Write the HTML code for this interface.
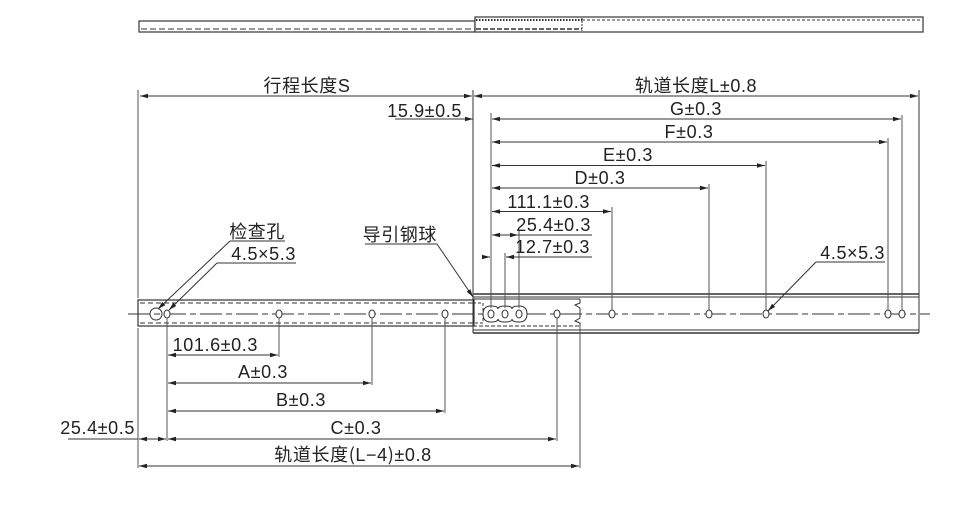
<!DOCTYPE html>
<html><head><meta charset="utf-8"><style>
html,body{margin:0;padding:0;background:#fff}
svg{display:block}
text{font-family:"Liberation Sans","Noto Sans CJK SC",sans-serif;font-size:18px;fill:#222;letter-spacing:0.6px}
.w{font-family:"Noto Sans CJK SC",sans-serif}
</style></head><body>
<svg width="964" height="528" viewBox="0 0 964 528" xmlns="http://www.w3.org/2000/svg">
<defs>
<marker id="ar" viewBox="0 0 8 6" refX="8" refY="3" markerWidth="8" markerHeight="6" orient="auto-start-reverse" markerUnits="userSpaceOnUse">
<path d="M0,0.8 L8,3 L0,5.2z" fill="#222"/></marker>
</defs>
<g stroke="#333" fill="none" stroke-width="1">
<rect x="139" y="21" width="336" height="11" stroke="#444" stroke-width="1.3"/>
<line x1="141" y1="29" x2="475" y2="29" stroke-dasharray="6,3"/>
<rect x="475" y="17" width="448" height="15" stroke="#444" stroke-width="1.3" fill="#fff"/>
<line x1="476" y1="20" x2="582" y2="20" stroke-dasharray="1.5,1.5" stroke-width="2"/>
<line x1="582" y1="20" x2="921" y2="20" stroke-dasharray="3,2"/>
<line x1="476" y1="29" x2="582" y2="29" stroke-dasharray="5,2" stroke-width="1.6"/>
<line x1="582" y1="18" x2="582" y2="31" stroke-dasharray="2,1"/>

<rect x="138" y="300" width="336" height="26" stroke-width="1.2"/>
<line x1="140" y1="303" x2="474" y2="303" stroke-dasharray="5,3"/>
<line x1="140" y1="323" x2="474" y2="323" stroke-dasharray="5,3"/>
<line x1="473" y1="294" x2="919" y2="294" stroke-width="1.6"/>
<line x1="473" y1="297" x2="919" y2="297"/>
<line x1="473" y1="330" x2="919" y2="330"/>
<line x1="473" y1="333" x2="919" y2="333" stroke-width="1.6"/>
<line x1="919" y1="294" x2="919" y2="333"/>
<line x1="473" y1="294" x2="473" y2="333"/>
<line x1="473" y1="299" x2="580" y2="299"/>
<line x1="473" y1="326" x2="580" y2="326" stroke-dasharray="4,2"/>
<path d="M580,299 L580,303 L575,305 L580,308 L580,318 L575,321 L580,323 L580,326"/>
<rect x="473" y="303" width="10" height="20" stroke-dasharray="3,2"/>
<line x1="128" y1="314" x2="930" y2="314" stroke-dasharray="22,4,6,4"/>
<circle cx="156" cy="314" r="6"/>
<g fill="#fff">
<ellipse cx="167" cy="314" rx="3" ry="4"/>
<ellipse cx="279" cy="314" rx="3" ry="4"/>
<ellipse cx="372" cy="314" rx="3" ry="4"/>
<ellipse cx="445" cy="314" rx="3" ry="4"/>
<path d="M491,306 Q498,306 498,309 Q498,306 505,306 Q512,306 512,309 Q512,306 519,306 Q527,306 527,314 Q527,322 519,322 Q512,322 512,319 Q512,322 505,322 Q498,322 498,319 Q498,322 491,322 Q483,322 483,314 Q483,306 491,306z"/>
<ellipse cx="491" cy="314" rx="3" ry="4"/>
<ellipse cx="505" cy="314" rx="3" ry="4"/>
<ellipse cx="519" cy="314" rx="3" ry="4"/>
<ellipse cx="557" cy="314" rx="3" ry="4"/>
<ellipse cx="612" cy="314" rx="3" ry="4"/>
<ellipse cx="709" cy="314" rx="3" ry="4"/>
<ellipse cx="766" cy="314" rx="3" ry="4"/>
<ellipse cx="888" cy="314" rx="3" ry="4"/>
<ellipse cx="902" cy="314" rx="3" ry="4"/>
</g>

<line x1="138" y1="90" x2="138" y2="298" stroke="#555"/>
<line x1="473" y1="90" x2="473" y2="294"/>
<line x1="919" y1="90" x2="919" y2="294"/>
<line x1="140" y1="96" x2="472" y2="96" marker-start="url(#ar)" marker-end="url(#ar)"/>
<line x1="474" y1="96" x2="918" y2="96" marker-start="url(#ar)" marker-end="url(#ar)"/>
<line x1="395" y1="119" x2="473" y2="119" marker-end="url(#ar)"/>
<line x1="491" y1="113" x2="491" y2="308" stroke="#555"/>
<line x1="492" y1="119" x2="901" y2="119" marker-start="url(#ar)" marker-end="url(#ar)"/>
<line x1="902" y1="115" x2="902" y2="310" stroke="#555"/>
<line x1="492" y1="142" x2="887" y2="142" marker-start="url(#ar)" marker-end="url(#ar)"/>
<line x1="888" y1="138" x2="888" y2="310" stroke="#555"/>
<line x1="492" y1="165.5" x2="765" y2="165.5" marker-start="url(#ar)" marker-end="url(#ar)"/>
<line x1="766" y1="161" x2="766" y2="310" stroke="#555"/>
<line x1="492" y1="188" x2="708" y2="188" marker-start="url(#ar)" marker-end="url(#ar)"/>
<line x1="709" y1="184" x2="709" y2="310" stroke="#555"/>
<line x1="492" y1="211.5" x2="611" y2="211.5" marker-start="url(#ar)" marker-end="url(#ar)"/>
<line x1="612" y1="207" x2="612" y2="310" stroke="#555"/>
<line x1="492" y1="235" x2="518" y2="235" marker-start="url(#ar)" marker-end="url(#ar)"/>
<line x1="518" y1="235" x2="592" y2="235"/>
<line x1="519" y1="231" x2="519" y2="308" stroke="#555"/>
<line x1="482" y1="257" x2="490" y2="257" marker-end="url(#ar)"/>
<line x1="592" y1="257" x2="506" y2="257" marker-end="url(#ar)"/>
<line x1="505" y1="253" x2="505" y2="308" stroke="#555"/>

<line x1="230" y1="241" x2="285" y2="241"/>
<line x1="230" y1="241" x2="158" y2="309" marker-end="url(#ar)"/>
<line x1="217" y1="263" x2="296" y2="263"/>
<line x1="217" y1="263" x2="169" y2="310" marker-end="url(#ar)"/>
<line x1="365" y1="244" x2="437" y2="244"/>
<line x1="437" y1="244" x2="473" y2="297" marker-end="url(#ar)"/>
<line x1="816" y1="262" x2="885" y2="262"/>
<line x1="816" y1="262" x2="768" y2="311" marker-end="url(#ar)"/>

<line x1="138" y1="328" x2="138" y2="468" stroke="#555"/>
<line x1="167" y1="318" x2="167" y2="441" stroke="#555"/>
<line x1="279" y1="318" x2="279" y2="357" stroke="#555"/>
<line x1="372" y1="318" x2="372" y2="385" stroke="#555"/>
<line x1="445" y1="318" x2="445" y2="413" stroke="#555"/>
<line x1="557" y1="318" x2="557" y2="441" stroke="#555"/>
<line x1="580" y1="326" x2="580" y2="468" stroke="#555"/>
<line x1="168" y1="355" x2="278" y2="355" marker-start="url(#ar)" marker-end="url(#ar)"/>
<line x1="168" y1="383" x2="371" y2="383" marker-start="url(#ar)" marker-end="url(#ar)"/>
<line x1="168" y1="411" x2="444" y2="411" marker-start="url(#ar)" marker-end="url(#ar)"/>
<line x1="168" y1="439" x2="556" y2="439" marker-start="url(#ar)" marker-end="url(#ar)"/>
<line x1="68" y1="439" x2="138" y2="439"/>
<line x1="139" y1="439" x2="166" y2="439" marker-start="url(#ar)" marker-end="url(#ar)"/>
<line x1="139" y1="466" x2="579" y2="466" marker-start="url(#ar)" marker-end="url(#ar)"/>
</g>

<g>
<text x="307" y="92" text-anchor="middle">行程长度S</text>
<text x="696" y="92" text-anchor="middle">轨道长度L±0.8</text>
<text x="462" y="117" text-anchor="end">15.9±0.5</text>
<text x="696" y="115" text-anchor="middle">G±0.3</text>
<text x="689" y="138" text-anchor="middle">F±0.3</text>
<text x="628" y="161" text-anchor="middle">E±0.3</text>
<text x="600" y="184" text-anchor="middle">D±0.3</text>
<text x="590" y="208" text-anchor="end">111.1±0.3</text>
<text x="591" y="231" text-anchor="end">25.4±0.3</text>
<text x="590" y="253" text-anchor="end">12.7±0.3</text>
<text x="885" y="259" text-anchor="end">4.5×5.3</text>
<text x="285" y="238" text-anchor="end">检查孔</text>
<text x="296" y="260" text-anchor="end">4.5×5.3</text>
<text x="437" y="241" text-anchor="end">导引钢球</text>
<text x="258" y="351" text-anchor="end">101.6±0.3</text>
<text x="263" y="378" text-anchor="middle">A±0.3</text>
<text x="301" y="406" text-anchor="middle">B±0.3</text>
<text x="356" y="434" text-anchor="middle">C±0.3</text>
<text x="135" y="434" text-anchor="end">25.4±0.5</text>
<text x="353" y="461" text-anchor="middle">轨道长度<tspan class="w">(</tspan>L−4<tspan class="w">)</tspan>±0.8</text>
</g>
</svg>
</body></html>
